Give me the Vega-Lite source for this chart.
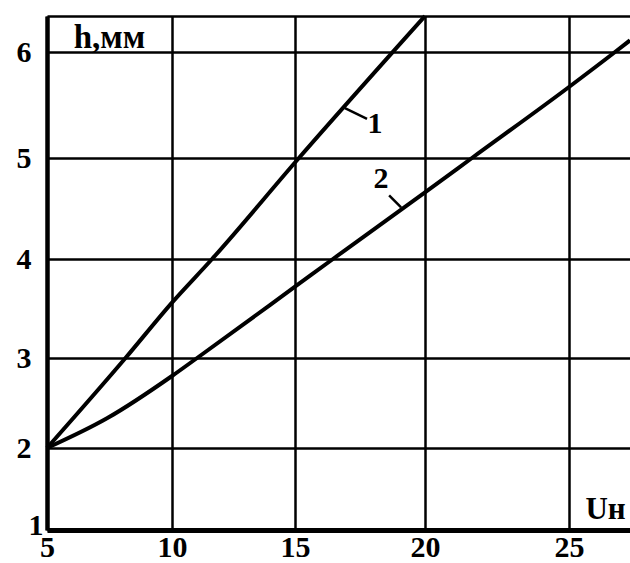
{
  "$schema": "https://vega.github.io/schema/vega-lite/v6.json",
  "autosize": "none",
  "width": 583,
  "height": 514,
  "padding": {"left": 47, "top": 16, "right": 0, "bottom": 33},
  "background": "white",
  "config": {"view": {"stroke": null}},
  "datasets": {
    "curves": [
      {"U": 5, "h": 2, "curve": "1"},
      {"U": 8.14, "h": 3, "curve": "1"},
      {"U": 10, "h": 3.56, "curve": "1"},
      {"U": 11.63, "h": 4, "curve": "1"},
      {"U": 15.15, "h": 5, "curve": "1"},
      {"U": 20, "h": 6.34, "curve": "1"},
      {"U": 5, "h": 2, "curve": "2"},
      {"U": 7.4, "h": 2.33, "curve": "2"},
      {"U": 10, "h": 2.8, "curve": "2"},
      {"U": 11.02, "h": 3, "curve": "2"},
      {"U": 15, "h": 3.72, "curve": "2"},
      {"U": 16.46, "h": 4, "curve": "2"},
      {"U": 20, "h": 4.66, "curve": "2"},
      {"U": 21.63, "h": 5, "curve": "2"},
      {"U": 25, "h": 5.67, "curve": "2"},
      {"U": 26.6, "h": 6, "curve": "2"},
      {"U": 27.12, "h": 6.11, "curve": "2"}
    ],
    "leaders": [
      {"U": 16.92, "h": 5.47, "U2": 17.77, "h2": 5.37, "label": "1", "lx": 18.08, "ly": 5.32},
      {"U": 18.62, "h": 4.63, "U2": 19.08, "h2": 4.51, "label": "2", "lx": 18.31, "ly": 4.79}
    ]
  },
  "layer": [
    {
      "data": {"name": "curves"},
      "mark": {"type": "line", "color": "black", "strokeWidth": 4, "interpolate": "monotone"},
      "encoding": {
        "x": {
          "field": "U", "type": "quantitative",
          "scale": {"domain": [5, 10, 15, 20, 25, 27.12], "range": [0, 125, 248, 378, 522, 583], "nice": false, "zero": false},
          "axis": {
            "values": [5, 10, 15, 20, 25],
            "format": "d",
            "grid": true, "gridColor": "black", "gridWidth": 2.5, "gridOpacity": 1,
            "domain": true, "domainColor": "black", "domainWidth": 5,
            "ticks": false,
            "labelFont": "Liberation Serif", "labelFontWeight": "bold", "labelFontSize": 30, "labelColor": "black",
            "labelPadding": 2, "labelBaseline": "top", "labelFlush": false, "labelOverlap": false,
            "title": "Uн", "titleFont": "Liberation Serif", "titleFontWeight": "bold", "titleFontSize": 31, "titleColor": "black",
            "titleAnchor": "start", "titleX": 558, "titleY": -12, "titleAlign": "center", "titleBaseline": "alphabetic"
          }
        },
        "y": {
          "field": "h", "type": "quantitative",
          "scale": {"domain": [1, 2, 3, 4, 5, 6, 6.34], "range": [514, 432, 342, 243, 142, 36, 0], "nice": false, "zero": false},
          "axis": {
            "values": [1, 2, 3, 4, 5, 6, 6.34],
            "labelExpr": "datum.value > 6.2 ? '' : format(datum.value, 'd')",
            "grid": true, "gridColor": "black", "gridWidth": 2.5, "gridOpacity": 1,
            "domain": true, "domainColor": "black", "domainWidth": 4.5,
            "ticks": false,
            "labelFont": "Liberation Serif", "labelFontWeight": "bold", "labelFontSize": 30, "labelColor": "black",
            "labelPadding": {"condition": {"test": "datum.value == 1", "value": 4}, "value": 16},
            "labelOffset": {"condition": {"test": "datum.value == 1", "value": -5}, "value": 0},
            "labelBaseline": "middle", "labelFlush": false, "labelOverlap": false,
            "title": "h,мм", "titleFont": "Liberation Serif", "titleFontWeight": "bold", "titleFontSize": 33, "titleColor": "black",
            "titleAngle": 0, "titleAnchor": "start", "titleX": 62, "titleY": 31, "titleAlign": "center", "titleBaseline": "alphabetic"
          }
        },
        "detail": {"field": "curve", "type": "nominal"}
      }
    },
    {
      "data": {"name": "leaders"},
      "mark": {"type": "rule", "color": "black", "strokeWidth": 2.5},
      "encoding": {
        "x": {"field": "U", "type": "quantitative"},
        "y": {"field": "h", "type": "quantitative"},
        "x2": {"field": "U2"},
        "y2": {"field": "h2"}
      }
    },
    {
      "data": {"name": "leaders"},
      "mark": {"type": "text", "color": "black", "font": "Liberation Serif", "fontWeight": "bold", "fontSize": 30, "align": "center", "baseline": "middle"},
      "encoding": {
        "x": {"field": "lx", "type": "quantitative"},
        "y": {"field": "ly", "type": "quantitative"},
        "text": {"field": "label"}
      }
    }
  ]
}
